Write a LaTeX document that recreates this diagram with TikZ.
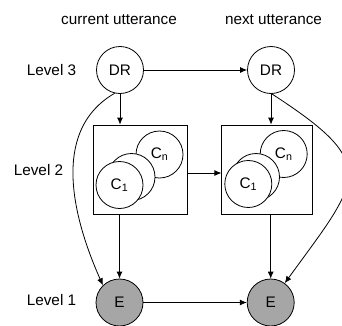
\documentclass[tikz,border=0pt]{standalone}
\usepackage{fontspec}
\setmainfont{Liberation Sans}
\usetikzlibrary{arrows.meta}
\definecolor{efill}{RGB}{166,166,166}
\begin{document}
\begin{tikzpicture}[x=1pt, y=1pt, line width=0.8pt,
>={Latex[length=7pt,width=6pt]},
every node/.style={font=\fontsize{15.3}{18}\selectfont},
dr/.style={circle, draw, minimum size=47pt, inner sep=0pt},
ev/.style={dr, fill=efill},
cl/.style={circle, draw, fill=white, minimum size=47pt, inner sep=0pt},
box/.style={draw, minimum height=89pt},
arr/.style={line width=0.8pt}]
\useasboundingbox (0,0) rectangle (342,325);
\node (cur) at (119,305)   {current utterance};
\node (nxt) at (273.5,305) {next utterance};
\node (l3)  at (51.5,255)  {Level 3};
\node (l2)  at (38.5,155)  {Level 2};
\node (l1)  at (51.5,25)   {Level 1};
%
\node[dr] (dr1) at (120,255) {DR};
\node[dr] (dr2) at (271,255) {DR};
\node[box, minimum width=94pt] (b1) at (140,155.5) {};
\node[box, minimum width=91pt] (b2) at (267.3,155.5) {};
\node[cl] (cn1) at (159.5,170.5) {C\textsubscript{n}};
\node[cl] (cm1) at (131.5,148)   {};
\node[cl] (c11) at (119.5,140)   {C\textsubscript{1}};
\node[cl] (cn2) at (283.7,171)   {C\textsubscript{n}};
\node[cl] (cm2) at (256,148)     {};
\node[cl] (c12) at (248.3,141)   {C\textsubscript{1}};
\node[ev] (e1) at (119.5,22.5) {E};
\node[ev] (e2) at (270.7,22.5) {E};
%
\draw[->, arr] (dr1) -- (dr2);
\draw[->, arr] (dr1) -- (dr1 |- b1.north);
\draw[->, arr] (dr2) -- (dr2 |- b2.north);
\draw[->, arr] ([yshift=-3.5pt]b1.east) -- ([yshift=-3.5pt]b2.west);
\draw[->, arr] (b1.south -| e1) -- (e1);
\draw[->, arr] (b2.south -| e2) -- (e2);
\draw[->, arr] (e1) -- (e2);
\draw[->, arr] (dr1.257) .. controls +(210:80) and +(114:60) .. (e1.134);
\draw[->, arr] (dr2.272) .. controls +(-33:130) and +(54:130) .. (e2.54);
\end{tikzpicture}
\end{document}
